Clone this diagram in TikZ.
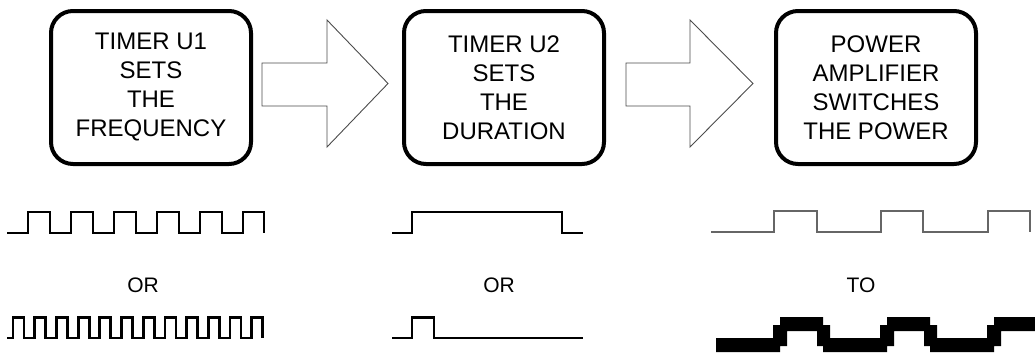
\documentclass[tikz,border=0pt]{standalone}
\usepackage{fontspec}
\setmainfont{Liberation Sans}
\begin{document}
\begin{tikzpicture}[x=1pt,y=-1pt,
  stage/.style={draw, line width=4pt, rounded corners=22pt,
    minimum width=200pt, minimum height=153pt, inner sep=0pt,
    align=center, font=\fontsize{24}{29}\selectfont},
  blockarrow/.style={draw=black!70, line width=0.9pt, fill=white},
  wave/.style={line width=2.8pt},
  thinwave/.style={line width=1.3pt, draw=black!60},
  bigwave/.style={fill=black},
  caption/.style={font=\fontsize{21}{25}\selectfont, inner sep=0pt}
]
\useasboundingbox (0,0) rectangle (1035,354);

% the three stages
\node[stage] (u1)  at (151,87.5) {TIMER U1\\SETS\\THE\\FREQUENCY};
\node[stage] (u2)  at (504,87.5) {TIMER U2\\SETS\\THE\\DURATION};
\node[stage] (amp) at (876,87.5) {POWER\\AMPLIFIER\\SWITCHES\\THE POWER};

% block arrows between the stages
\coordinate (a1) at (262,63);
\coordinate (a2) at (626,63);
\draw[blockarrow] (a1) -- ++(65,0) -- ++(0,-43) -- ++(61,63.5)
  -- ++(-61,63.5) -- ++(0,-41) -- ++(-65,0) -- cycle;
\draw[blockarrow] (a2) -- ++(64,0) -- ++(0,-43) -- ++(63,63.5)
  -- ++(-63,63.5) -- ++(0,-41) -- ++(-64,0) -- cycle;

% timer U1: two frequencies
\draw[wave] (7,233) -- (28,233)
  foreach \k in {1,...,5} { -- ++(0,-21) -- ++(22,0) -- ++(0,21) -- ++(21,0) }
  -- ++(0,-21) -- ++(21,0) -- ++(0,21);
\node[caption] (or1) at (143,285) {OR};
\draw[wave] (7,338) -- (13,338)
  foreach \k in {1,...,11} { -- ++(0,-20.5) -- ++(11,0) -- ++(0,20.5) -- ++(10.7,0) }
  -- ++(0,-20.5) -- ++(11,0) -- ++(0,20.5);

% timer U2: long or short duration
\draw[wave] (392,233) -- (412,233) -- (412,212) -- (562,212) -- (562,233) -- (583,233);
\node[caption] (or2) at (499,285) {OR};
\draw[wave] (392,338) -- (412,338) -- (412,317.5) -- (434,317.5) -- (434,338) -- (583,338);

% power amplifier: small signal in, large signal out
\draw[thinwave] (711,232) -- (774,232) -- (774,211) -- (817,211) -- (817,232)
  -- (881,232) -- (881,211) -- (923,211) -- (923,232)
  -- (988,232) -- (988,211) -- (1030,211) -- (1030,232);
\node[caption] (to) at (861,285) {TO};
\fill[bigwave] (716,338) -- (773,338) -- (773,325) -- (780,325) -- (780,317)
  -- (823,317) -- (823,325) -- (830,325) -- (830,338)
  -- (880,338) -- (880,325) -- (887,325) -- (887,317)
  -- (930,317) -- (930,325) -- (937,325) -- (937,338)
  -- (987,338) -- (987,325) -- (994,325) -- (994,317)
  -- (1035,317) -- (1035,331)
  -- (1001,331) -- (1001,346) -- (994,346) -- (994,352)
  -- (930,352) -- (930,346) -- (924,346) -- (924,331)
  -- (894,331) -- (894,346) -- (887,346) -- (887,352)
  -- (823,352) -- (823,346) -- (817,346) -- (817,331)
  -- (787,331) -- (787,346) -- (780,346) -- (780,352)
  -- (716,352) -- cycle;
\end{tikzpicture}
\end{document}
